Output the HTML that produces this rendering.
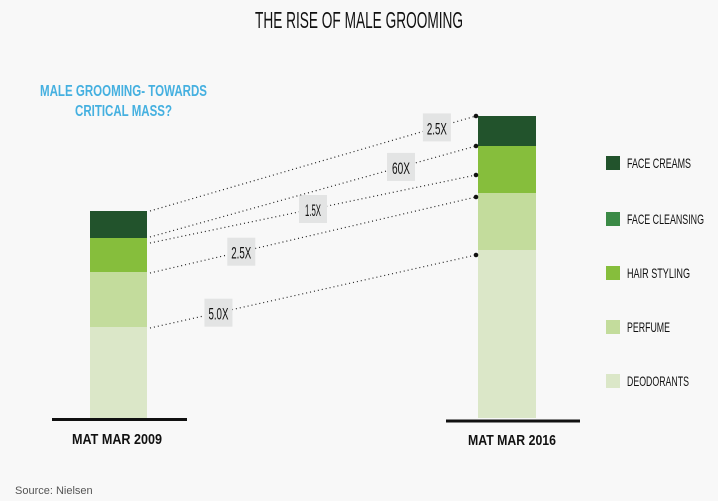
<!DOCTYPE html>
<html><head><meta charset="utf-8"><style>
html,body{margin:0;padding:0;background:#f8f8f8;}
svg{display:block;}
text{font-family:"Liberation Sans Narrow","Liberation Sans",sans-serif;}
</style></head><body>
<svg id="chart" width="718" height="501" viewBox="0 0 718 501">
<rect width="718" height="501" fill="#f8f8f8"/>
<text x="255" y="28" font-size="23" textLength="208" lengthAdjust="spacingAndGlyphs" fill="#111">THE RISE OF MALE GROOMING</text>
<text x="40" y="96" font-size="16" font-weight="bold" textLength="167" lengthAdjust="spacingAndGlyphs" fill="#45b0e0">MALE GROOMING- TOWARDS</text>
<text x="75" y="116" font-size="16" font-weight="bold" textLength="97" lengthAdjust="spacingAndGlyphs" fill="#45b0e0">CRITICAL MASS?</text>
<g id="bars"></g>
<g id="connectors"></g>
<g id="legend"></g>
<line x1="52" y1="419.5" x2="187" y2="419.5" stroke="#111" stroke-width="3"/>
<line x1="446" y1="421" x2="580" y2="421" stroke="#111" stroke-width="3"/>
<text x="72" y="444" font-size="15" font-weight="bold" textLength="90" lengthAdjust="spacingAndGlyphs" fill="#111">MAT MAR 2009</text>
<text x="468" y="445" font-size="15" font-weight="bold" textLength="88" lengthAdjust="spacingAndGlyphs" fill="#111">MAT MAR 2016</text>
<text x="15" y="494" font-size="11" fill="#555" style="font-family:'Liberation Sans',sans-serif">Source: Nielsen</text>
</svg>
<script>
const categories = ["DEODORANTS","PERFUME","HAIR STYLING","FACE CLEANSING","FACE CREAMS"];
const values2009 = [91, 55, 34, 0, 27];
const values2016 = [168, 57, 47, 0, 30];
const colors = ["#dbe7c8","#c3dc9c","#86be3c","#3b8a46","#22532c"];
const connectorLabels = ["5.0X","2.5X","1.5X","60X","2.5X"];
const connectorStart = [90, 145, 175, 181, 207];
const connectorEnd = [163, 221, 243, 272, 302];
const labelPos = [0.21, 0.28, 0.5, 0.77, 0.88];

const NS = "http://www.w3.org/2000/svg";
const baseY = 418, pxPerUnit = 1;
const y = v => baseY - v * pxPerUnit;
function mk(tag, attrs, parent){const e=document.createElementNS(NS,tag);for(const k in attrs)e.setAttribute(k,attrs[k]);parent.appendChild(e);return e;}

const bars = document.getElementById("bars");
function drawBar(vals, x0, w, year){
  let cum = 0;
  vals.forEach((v,i)=>{
    const r = mk("rect",{x:x0,y:y(cum+v),width:w,height:v*pxPerUnit,fill:colors[i]},bars);
    
    
    cum += v;
  });
}
drawBar(values2009, 90, 57, "2009");
drawBar(values2016, 478, 58, "2016");

const conn = document.getElementById("connectors");
const xs = 150, xe = 476;
connectorStart.forEach((s,i)=>{
  const y1 = y(s), y2 = y(connectorEnd[i]);
  const l = mk("line",{x1:xs,y1:y1,x2:xe,y2:y2,stroke:"#222","stroke-width":1.2,"stroke-dasharray":"1 3"},conn);
  
  
  const d = mk("circle",{cx:xe,cy:y2,r:2.3,fill:"#111"},conn);
  
  
  const t = labelPos[i], cx = xs + (xe-xs)*t, cy = y1 + (y2-y1)*t;
  const b = mk("rect",{x:cx-14,y:cy-14,width:28,height:28,fill:"#e3e4e4"},conn);
  
  
  const len = connectorLabels[i].length === 3 ? 18 : (connectorLabels[i].charAt(0)==='1' ? 16 : 20);
  const tx = mk("text",{x:cx,y:cy+7,"font-size":17,"text-anchor":"middle",fill:"#111",textLength:len,lengthAdjust:"spacingAndGlyphs"},conn);
  tx.textContent = connectorLabels[i];
  
  
});

const leg = document.getElementById("legend");
const legY = [381, 327, 273, 219, 163];
const legW = [62, 43, 63, 77, 64];
categories.forEach((c,i)=>{
  const g = mk("g",{},leg);
  
  
  mk("rect",{x:606,y:legY[i]-7,width:14,height:14,fill:colors[i]},g);
  const t = mk("text",{x:627,y:legY[i]+5,"font-size":14,fill:"#111",textLength:legW[i],lengthAdjust:"spacingAndGlyphs"},g);
  t.textContent = c;
});
</script>
</body></html>
